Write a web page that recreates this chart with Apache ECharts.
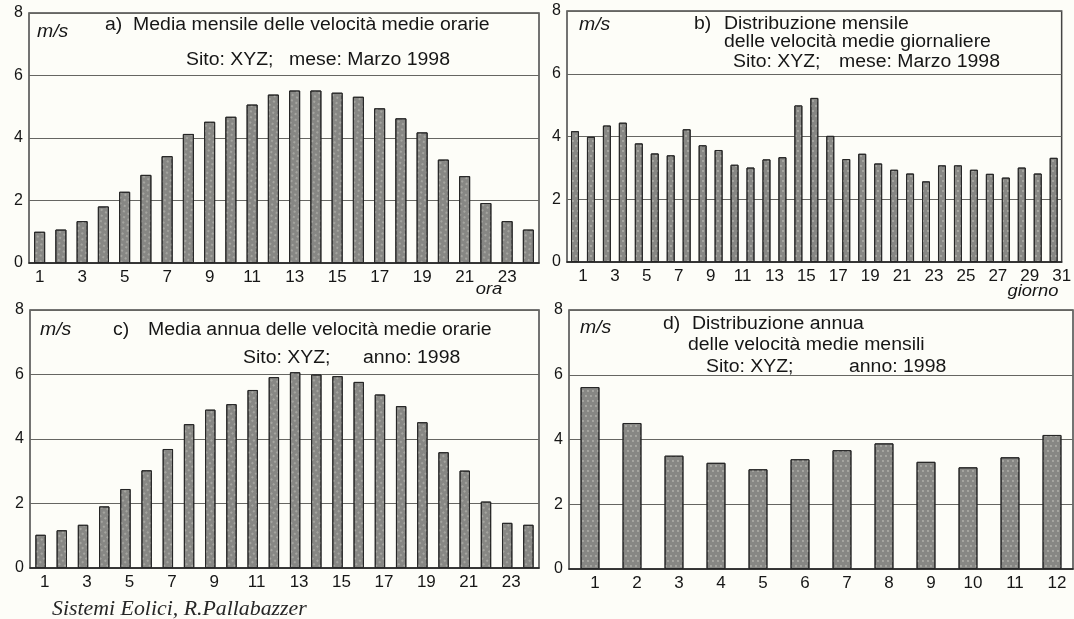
<!DOCTYPE html>
<html>
<head>
<meta charset="utf-8">
<script src="https://cdn.jsdelivr.net/npm/echarts@6/dist/echarts.min.js"></script>
<style>
  html, body { margin: 0; padding: 0; background: #fdfdf8; }
  #chart { width: 1074px; height: 619px; }
</style>
</head>
<body>
<div id="chart"></div>
<script>
// Tick labels
const hourLabels = ['1','2','3','4','5','6','7','8','9','10','11','12','13','14','15','16','17','18','19','20','21','22','23','24'];
const dayLabels = ['1','2','3','4','5','6','7','8','9','10','11','12','13','14','15','16','17','18','19','20','21','22','23','24','25','26','27','28','29','30','31'];
const monthLabels = ['1','2','3','4','5','6','7','8','9','10','11','12'];

// a) monthly mean of hourly mean speeds, March 1998 (m/s)
const marchHourly = [1.00, 1.07, 1.34, 1.81, 2.28, 2.82, 3.42, 4.13, 4.52, 4.68, 5.07, 5.39,
                     5.52, 5.52, 5.45, 5.32, 4.95, 4.63, 4.18, 3.31, 2.78, 1.92, 1.34, 1.07];
// b) daily mean speeds, March 1998 (m/s)
const marchDaily = [4.17, 3.99, 4.35, 4.44, 3.78, 3.46, 3.40, 4.23, 3.72, 3.57, 3.10, 3.01,
                    3.27, 3.34, 4.99, 5.23, 4.02, 3.28, 3.45, 3.14, 2.94, 2.82, 2.57, 3.08,
                    3.08, 2.94, 2.81, 2.69, 3.01, 2.82, 3.32];
// c) yearly mean of hourly mean speeds, 1998 (m/s)
const yearHourly = [1.03, 1.17, 1.34, 1.91, 2.45, 3.03, 3.69, 4.46, 4.91, 5.08, 5.52, 5.92,
                    6.07, 6.00, 5.95, 5.77, 5.38, 5.02, 4.52, 3.59, 3.02, 2.06, 1.40, 1.34];
// d) monthly mean speeds, 1998 (m/s)
const yearMonthly = [5.62, 4.51, 3.50, 3.28, 3.08, 3.39, 3.67, 3.88, 3.31, 3.14, 3.45, 4.14];

const SANS = "'Liberation Sans', Arial, sans-serif";
const SERIF = "'Liberation Serif', 'Times New Roman', serif";
const INK = '#161616';

const chart = echarts.init(document.getElementById('chart'), null, { renderer: 'canvas' });

const grids = [
  { left: 29,  top: 13,  width: 510, height: 250 },
  { left: 567, top: 11,  width: 503, height: 251 },
  { left: 30,  top: 310, width: 509, height: 258 },
  { left: 569, top: 310, width: 504, height: 259 }
].map(g => Object.assign({
  show: true, borderColor: '#454545', borderWidth: 1.5, backgroundColor: 'transparent',
  containLabel: false
}, g));

function xAxis(idx, data, interval, shift) {
  return {
    type: 'category', gridIndex: idx, data: data,
    boundaryGap: true,
    axisLine: { show: true, lineStyle: { color: '#262626', width: 1.5 } },
    axisTick: { show: false },
    axisLabel: {
      interval: interval, color: INK, fontFamily: SANS, fontSize: 17, margin: 6,
      padding: [0, 0, 0, shift * 2]
    },
    splitLine: { show: false }
  };
}

function yAxis(idx) {
  return {
    type: 'value', gridIndex: idx, min: 0, max: 8, interval: 2,
    axisLine: { show: false },
    axisTick: { show: false },
    axisLabel: { color: INK, fontFamily: SANS, fontSize: 16, margin: 6 },
    splitLine: { show: true, lineStyle: { color: '#666662', width: 1 } }
  };
}

const barStyle = {
  color: '#878784',
  borderColor: '#262626',
  borderWidth: 1,
  decal: {
    symbol: 'circle', symbolSize: 0.9,
    dashArrayX: [[2, 3], [0, 2, 2, 1]],
    dashArrayY: [2, 3],
    color: 'rgba(225, 225, 215, 0.5)'
  }
};

function bars(idx, data, width) {
  return {
    type: 'bar', xAxisIndex: idx, yAxisIndex: idx, data: data,
    barWidth: width, itemStyle: barStyle, silent: true, animation: false
  };
}

// Text placed at (x, y): left/center anchored, vertically centred, slightly widened
function txt(x, y, text, opts) {
  opts = opts || {};
  return {
    type: 'text', x: x, y: y, silent: true, z: 100,
    scaleX: opts.scaleX || 1.08,
    style: {
      text: text,
      fill: opts.fill || INK,
      font: (opts.italic ? 'italic ' : '') + (opts.size || 18) + 'px ' + (opts.family || SANS),
      textAlign: opts.align || 'left', align: opts.align || 'left',
      textVerticalAlign: 'middle', verticalAlign: 'middle'
    }
  };
}

const option = {
  backgroundColor: '#fdfdf8',
  animation: false,
  aria: { enabled: true, decal: { show: true } },
  grid: grids,
  xAxis: [
    xAxis(0, hourLabels, 1, 0),
    xAxis(1, dayLabels, 1, 8),
    xAxis(2, hourLabels, 1, 4),
    xAxis(3, monthLabels, 0, 5)
  ],
  yAxis: [yAxis(0), yAxis(1), yAxis(2), yAxis(3)],
  series: [
    bars(0, marchHourly, '52%'),
    bars(1, marchDaily, '50%'),
    bars(2, yearHourly, '49%'),
    bars(3, yearMonthly, '45%')
  ],
  graphic: [
    // a)
    txt(37, 32, 'm/s', { italic: true, size: 18 }),
    txt(105, 25, 'a)  Media mensile delle velocità medie orarie'),
    txt(186, 60, 'Sito: XYZ;'),
    txt(289, 60, 'mese: Marzo 1998'),
    txt(489, 289, 'ora', { italic: true, size: 17, align: 'center' }),
    // b)
    txt(579, 25, 'm/s', { italic: true, size: 18 }),
    txt(694, 24, 'b)'),
    txt(724, 24, 'Distribuzione mensile'),
    txt(724, 42, 'delle velocità medie giornaliere'),
    txt(733, 62, 'Sito: XYZ;'),
    txt(839, 62, 'mese: Marzo 1998'),
    txt(1033, 291, 'giorno', { italic: true, size: 17, align: 'center' }),
    // c)
    txt(40, 330, 'm/s', { italic: true, size: 18 }),
    txt(113, 330, 'c)'),
    txt(148, 330, 'Media annua delle velocità medie orarie'),
    txt(243, 358, 'Sito: XYZ;'),
    txt(363, 358, 'anno: 1998'),
    // d)
    txt(580, 328, 'm/s', { italic: true, size: 18 }),
    txt(663, 324, 'd)'),
    txt(692, 324, 'Distribuzione annua'),
    txt(688, 345, 'delle velocità medie mensili'),
    txt(706, 367, 'Sito: XYZ;'),
    txt(849, 367, 'anno: 1998'),
    // source line
    txt(52, 609, 'Sistemi Eolici, R.Pallabazzer', { italic: true, size: 21, family: SERIF, fill: '#262626', scaleX: 1.04 })
  ]
};

chart.setOption(option);
</script>
</body>
</html>
